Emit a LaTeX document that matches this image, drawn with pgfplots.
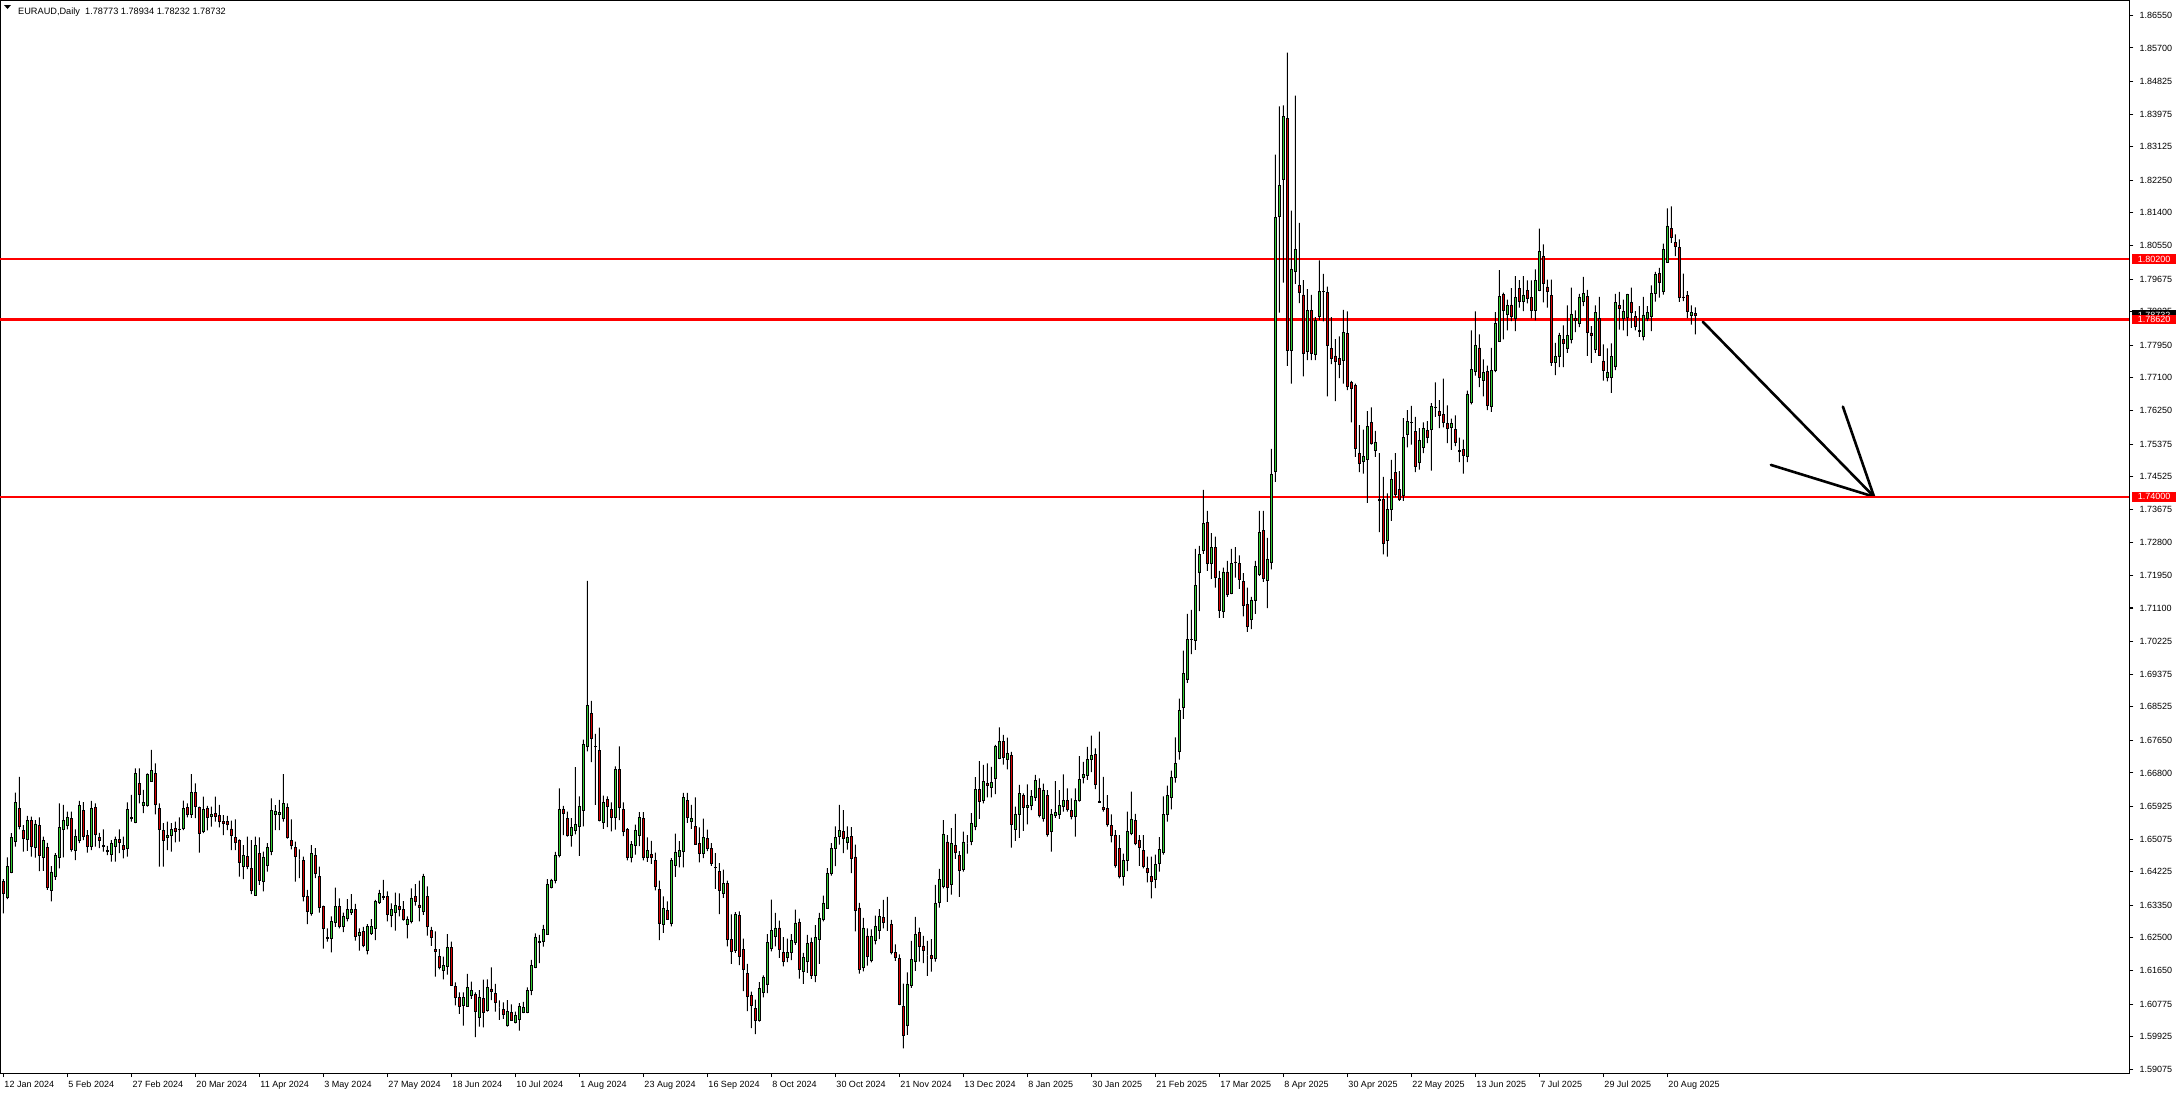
\documentclass[border=0pt]{standalone}
\usepackage{pgfplots}
\pgfplotsset{compat=1.18}
\usepackage{pgfplotstable}
\usepackage{fontspec}
\setmainfont{Liberation Sans}
\definecolor{cgreen}{RGB}{50,205,50}
\definecolor{cred}{RGB}{215,0,0}
\definecolor{lred}{RGB}{255,0,0}

\pgfplotstableread{
i o h l c
0 1.6397 1.6403 1.6314 1.6366
1 1.6356 1.6460 1.6351 1.6437
2 1.6421 1.6523 1.6419 1.6512
3 1.6501 1.6629 1.6488 1.6604
4 1.6588 1.6670 1.6533 1.6540
5 1.6529 1.6544 1.6475 1.6509
6 1.6507 1.6568 1.6477 1.6557
7 1.6555 1.6566 1.6462 1.6488
8 1.6486 1.6557 1.6459 1.6547
9 1.6542 1.6564 1.6424 1.6464
10 1.6460 1.6514 1.6425 1.6503
11 1.6486 1.6498 1.6375 1.6381
12 1.6373 1.6437 1.6345 1.6422
13 1.6410 1.6471 1.6401 1.6466
14 1.6460 1.6601 1.6431 1.6538
15 1.6533 1.6597 1.6460 1.6557
16 1.6544 1.6579 1.6533 1.6564
17 1.6562 1.6579 1.6475 1.6481
18 1.6477 1.6533 1.6453 1.6514
19 1.6505 1.6607 1.6497 1.6596
20 1.6583 1.6604 1.6505 1.6514
21 1.6517 1.6531 1.6472 1.6488
22 1.6488 1.6607 1.6479 1.6588
23 1.6590 1.6601 1.6488 1.6520
24 1.6512 1.6524 1.6484 1.6504
25 1.6492 1.6533 1.6475 1.6488
26 1.6477 1.6490 1.6466 1.6476
27 1.6467 1.6505 1.6449 1.6497
28 1.6488 1.6514 1.6449 1.6507
29 1.6507 1.6533 1.6471 1.6499
30 1.6491 1.6514 1.6457 1.6481
31 1.6483 1.6603 1.6462 1.6585
32 1.6561 1.6623 1.6553 1.6564
33 1.6551 1.6692 1.6549 1.6679
34 1.6653 1.6692 1.6601 1.6623
35 1.6596 1.6636 1.6575 1.6604
36 1.6596 1.6679 1.6592 1.6675
37 1.6658 1.6740 1.6657 1.6687
38 1.6679 1.6705 1.6572 1.6598
39 1.6588 1.6601 1.6436 1.6533
40 1.6531 1.6549 1.6436 1.6504
41 1.6512 1.6553 1.6479 1.6517
42 1.6517 1.6549 1.6475 1.6533
43 1.6536 1.6553 1.6499 1.6528
44 1.6533 1.6564 1.6501 1.6534
45 1.6535 1.6608 1.6531 1.6588
46 1.6590 1.6601 1.6564 1.6572
47 1.6572 1.6677 1.6563 1.6630
48 1.6630 1.6653 1.6562 1.6593
49 1.6590 1.6592 1.6472 1.6522
50 1.6528 1.6618 1.6523 1.6585
51 1.6588 1.6594 1.6530 1.6564
52 1.6566 1.6592 1.6540 1.6572
53 1.6575 1.6618 1.6553 1.6566
54 1.6570 1.6597 1.6538 1.6554
55 1.6553 1.6570 1.6518 1.6549
56 1.6553 1.6568 1.6531 1.6546
57 1.6534 1.6556 1.6479 1.6517
58 1.6512 1.6559 1.6479 1.6499
59 1.6505 1.6507 1.6410 1.6446
60 1.6437 1.6492 1.6403 1.6466
61 1.6463 1.6514 1.6429 1.6436
62 1.6431 1.6505 1.6364 1.6373
63 1.6361 1.6514 1.6361 1.6490
64 1.6471 1.6512 1.6388 1.6399
65 1.6397 1.6475 1.6371 1.6461
66 1.6439 1.6497 1.6423 1.6486
67 1.6475 1.6614 1.6466 1.6583
68 1.6571 1.6596 1.6531 1.6581
69 1.6571 1.6610 1.6531 1.6577
70 1.6562 1.6677 1.6553 1.6601
71 1.6591 1.6601 1.6509 1.6513
72 1.6505 1.6559 1.6481 1.6491
73 1.6486 1.6501 1.6397 1.6462
74 1.6455 1.6481 1.6406 1.6455
75 1.6451 1.6462 1.6345 1.6358
76 1.6357 1.6375 1.6286 1.6319
77 1.6314 1.6492 1.6308 1.6471
78 1.6464 1.6484 1.6406 1.6419
79 1.6411 1.6436 1.6316 1.6330
80 1.6331 1.6334 1.6222 1.6275
81 1.6249 1.6275 1.6240 1.6250
82 1.6249 1.6306 1.6212 1.6293
83 1.6290 1.6381 1.6279 1.6331
84 1.6331 1.6353 1.6275 1.6279
85 1.6279 1.6316 1.6265 1.6305
86 1.6300 1.6351 1.6293 1.6323
87 1.6316 1.6364 1.6310 1.6323
88 1.6325 1.6339 1.6243 1.6254
89 1.6256 1.6275 1.6217 1.6265
90 1.6267 1.6279 1.6226 1.6230
91 1.6217 1.6286 1.6207 1.6279
92 1.6262 1.6299 1.6258 1.6279
93 1.6275 1.6349 1.6244 1.6346
94 1.6342 1.6375 1.6339 1.6366
95 1.6359 1.6401 1.6349 1.6355
96 1.6359 1.6371 1.6293 1.6311
97 1.6309 1.6340 1.6278 1.6323
98 1.6316 1.6368 1.6269 1.6334
99 1.6331 1.6366 1.6306 1.6324
100 1.6323 1.6346 1.6295 1.6299
101 1.6286 1.6306 1.6249 1.6297
102 1.6293 1.6379 1.6288 1.6354
103 1.6359 1.6390 1.6334 1.6346
104 1.6336 1.6399 1.6293 1.6329
105 1.6319 1.6417 1.6310 1.6410
106 1.6359 1.6384 1.6256 1.6279
107 1.6270 1.6279 1.6229 1.6252
108 1.6221 1.6267 1.6149 1.6215
109 1.6202 1.6221 1.6168 1.6173
110 1.6166 1.6201 1.6142 1.6177
111 1.6175 1.6260 1.6154 1.6226
112 1.6224 1.6240 1.6125 1.6127
113 1.6123 1.6134 1.6074 1.6095
114 1.6095 1.6108 1.6052 1.6072
115 1.6074 1.6108 1.6021 1.6094
116 1.6072 1.6156 1.6071 1.6121
117 1.6101 1.6136 1.6091 1.6112
118 1.6103 1.6108 1.5991 1.6058
119 1.6043 1.6114 1.6019 1.6096
120 1.6093 1.6141 1.6017 1.6057
121 1.6061 1.6142 1.6058 1.6121
122 1.6117 1.6173 1.6088 1.6111
123 1.6106 1.6130 1.6058 1.6082
124 1.6069 1.6087 1.6036 1.6069
125 1.6064 1.6082 1.6039 1.6051
126 1.6021 1.6088 1.6019 1.6059
127 1.6056 1.6077 1.6034 1.6036
128 1.6030 1.6058 1.6027 1.6047
129 1.6038 1.6080 1.6008 1.6072
130 1.6057 1.6083 1.6054 1.6069
131 1.6056 1.6121 1.6054 1.6112
132 1.6112 1.6193 1.6101 1.6179
133 1.6174 1.6262 1.6171 1.6252
134 1.6239 1.6258 1.6184 1.6242
135 1.6242 1.6284 1.6227 1.6273
136 1.6259 1.6403 1.6258 1.6390
137 1.6382 1.6404 1.6379 1.6401
138 1.6399 1.6474 1.6392 1.6465
139 1.6466 1.6640 1.6460 1.6584
140 1.6584 1.6594 1.6518 1.6574
141 1.6562 1.6579 1.6514 1.6517
142 1.6518 1.6562 1.6488 1.6538
143 1.6531 1.6695 1.6520 1.6545
144 1.6541 1.6619 1.6464 1.6594
145 1.6583 1.6767 1.6541 1.6754
146 1.6749 1.7181 1.6736 1.6855
147 1.6836 1.6868 1.6708 1.6769
148 1.6749 1.6782 1.6597 1.6750
149 1.6738 1.6798 1.6554 1.6557
150 1.6552 1.6621 1.6534 1.6604
151 1.6610 1.6619 1.6539 1.6593
152 1.6586 1.6603 1.6528 1.6565
153 1.6565 1.6697 1.6532 1.6690
154 1.6689 1.6749 1.6557 1.6591
155 1.6586 1.6603 1.6515 1.6528
156 1.6532 1.6536 1.6452 1.6461
157 1.6461 1.6502 1.6447 1.6493
158 1.6491 1.6545 1.6467 1.6530
159 1.6517 1.6578 1.6489 1.6565
160 1.6561 1.6578 1.6452 1.6461
161 1.6461 1.6512 1.6448 1.6477
162 1.6467 1.6503 1.6443 1.6461
163 1.6451 1.6472 1.6374 1.6384
164 1.6377 1.6399 1.6244 1.6289
165 1.6284 1.6358 1.6263 1.6326
166 1.6321 1.6345 1.6298 1.6299
167 1.6289 1.6458 1.6280 1.6451
168 1.6439 1.6522 1.6409 1.6474
169 1.6463 1.6502 1.6434 1.6477
170 1.6476 1.6628 1.6434 1.6616
171 1.6608 1.6628 1.6550 1.6563
172 1.6554 1.6597 1.6534 1.6562
173 1.6541 1.6616 1.6493 1.6495
174 1.6497 1.6538 1.6447 1.6469
175 1.6470 1.6561 1.6458 1.6513
176 1.6510 1.6532 1.6476 1.6484
177 1.6483 1.6497 1.6438 1.6444
178 1.6434 1.6471 1.6378 1.6433
179 1.6423 1.6445 1.6312 1.6374
180 1.6367 1.6428 1.6354 1.6393
181 1.6393 1.6399 1.6228 1.6245
182 1.6245 1.6311 1.6182 1.6215
183 1.6218 1.6317 1.6211 1.6311
184 1.6308 1.6319 1.6179 1.6202
185 1.6219 1.6248 1.6111 1.6169
186 1.6157 1.6182 1.6059 1.6098
187 1.6099 1.6110 1.6015 1.6075
188 1.6067 1.6089 1.5999 1.6035
189 1.6035 1.6135 1.6032 1.6119
190 1.6108 1.6152 1.6095 1.6148
191 1.6130 1.6260 1.6106 1.6237
192 1.6223 1.6350 1.6215 1.6269
193 1.6254 1.6315 1.6228 1.6276
194 1.6276 1.6295 1.6198 1.6221
195 1.6212 1.6252 1.6176 1.6189
196 1.6200 1.6248 1.6187 1.6213
197 1.6212 1.6260 1.6192 1.6243
198 1.6238 1.6324 1.6232 1.6289
199 1.6291 1.6300 1.6144 1.6169
200 1.6163 1.6211 1.6130 1.6199
201 1.6189 1.6258 1.6159 1.6235
202 1.6239 1.6251 1.6143 1.6152
203 1.6152 1.6283 1.6135 1.6250
204 1.6247 1.6315 1.6182 1.6302
205 1.6298 1.6360 1.6293 1.6341
206 1.6328 1.6432 1.6326 1.6419
207 1.6419 1.6497 1.6412 1.6484
208 1.6484 1.6541 1.6437 1.6513
209 1.6515 1.6597 1.6493 1.6531
210 1.6528 1.6583 1.6471 1.6510
211 1.6500 1.6541 1.6480 1.6513
212 1.6515 1.6539 1.6419 1.6456
213 1.6461 1.6493 1.6267 1.6321
214 1.6328 1.6341 1.6157 1.6167
215 1.6174 1.6302 1.6163 1.6276
216 1.6255 1.6275 1.6178 1.6201
217 1.6192 1.6272 1.6186 1.6255
218 1.6243 1.6308 1.6233 1.6281
219 1.6269 1.6325 1.6247 1.6307
220 1.6304 1.6349 1.6275 1.6290
221 1.6279 1.6357 1.6268 1.6279
222 1.6284 1.6297 1.6207 1.6211
223 1.6212 1.6233 1.6190 1.6198
224 1.6197 1.6207 1.6075 1.6077
225 1.6072 1.6131 1.5962 1.5995
226 1.6023 1.6160 1.5997 1.6130
227 1.6125 1.6242 1.6120 1.6194
228 1.6190 1.6305 1.6164 1.6260
229 1.6264 1.6277 1.6188 1.6227
230 1.6229 1.6255 1.6184 1.6217
231 1.6204 1.6242 1.6151 1.6204
232 1.6205 1.6247 1.6162 1.6196
233 1.6196 1.6388 1.6188 1.6340
234 1.6342 1.6430 1.6329 1.6403
235 1.6385 1.6557 1.6379 1.6521
236 1.6500 1.6518 1.6344 1.6382
237 1.6390 1.6536 1.6363 1.6497
238 1.6491 1.6573 1.6456 1.6473
239 1.6465 1.6476 1.6357 1.6425
240 1.6428 1.6527 1.6423 1.6500
241 1.6496 1.6518 1.6470 1.6496
242 1.6501 1.6575 1.6492 1.6549
243 1.6541 1.6669 1.6531 1.6637
244 1.6637 1.6711 1.6560 1.6605
245 1.6609 1.6701 1.6601 1.6658
246 1.6653 1.6705 1.6616 1.6647
247 1.6642 1.6696 1.6616 1.6656
248 1.6666 1.6753 1.6625 1.6748
249 1.6718 1.6799 1.6716 1.6763
250 1.6763 1.6779 1.6702 1.6720
251 1.6715 1.6772 1.6689 1.6731
252 1.6726 1.6735 1.6485 1.6546
253 1.6533 1.6592 1.6503 1.6572
254 1.6572 1.6649 1.6511 1.6627
255 1.6622 1.6627 1.6529 1.6589
256 1.6591 1.6650 1.6546 1.6596
257 1.6596 1.6635 1.6583 1.6620
258 1.6616 1.6675 1.6607 1.6661
259 1.6641 1.6666 1.6564 1.6570
260 1.6562 1.6652 1.6553 1.6635
261 1.6622 1.6635 1.6514 1.6520
262 1.6527 1.6586 1.6475 1.6573
263 1.6569 1.6659 1.6563 1.6577
264 1.6572 1.6635 1.6560 1.6595
265 1.6592 1.6676 1.6579 1.6609
266 1.6609 1.6640 1.6579 1.6585
267 1.6582 1.6614 1.6559 1.6566
268 1.6566 1.6640 1.6514 1.6609
269 1.6608 1.6724 1.6605 1.6664
270 1.6668 1.6709 1.6653 1.6675
271 1.6673 1.6748 1.6662 1.6716
272 1.6715 1.6777 1.6682 1.6727
273 1.6729 1.6744 1.6638 1.6650
274 1.6605 1.6788 1.6602 1.6604
275 1.6591 1.6670 1.6579 1.6585
276 1.6588 1.6622 1.6540 1.6546
277 1.6544 1.6572 1.6499 1.6516
278 1.6518 1.6531 1.6433 1.6440
279 1.6483 1.6518 1.6405 1.6410
280 1.6410 1.6470 1.6386 1.6452
281 1.6451 1.6579 1.6424 1.6528
282 1.6522 1.6631 1.6518 1.6560
283 1.6555 1.6573 1.6492 1.6496
284 1.6503 1.6518 1.6438 1.6485
285 1.6479 1.6518 1.6431 1.6436
286 1.6431 1.6462 1.6395 1.6420
287 1.6411 1.6462 1.6353 1.6397
288 1.6402 1.6467 1.6380 1.6442
289 1.6445 1.6513 1.6423 1.6481
290 1.6473 1.6619 1.6467 1.6571
291 1.6572 1.6647 1.6553 1.6621
292 1.6617 1.6686 1.6585 1.6669
293 1.6669 1.6773 1.6655 1.6704
294 1.6737 1.6874 1.6715 1.6842
295 1.6850 1.6999 1.6821 1.6939
296 1.6925 1.7095 1.6915 1.7027
297 1.7029 1.7105 1.6990 1.7028
298 1.7026 1.7264 1.7001 1.7168
299 1.7204 1.7272 1.7102 1.7250
300 1.7259 1.7418 1.7251 1.7331
301 1.7334 1.7363 1.7207 1.7225
302 1.7225 1.7305 1.7186 1.7269
303 1.7267 1.7296 1.7163 1.7189
304 1.7186 1.7207 1.7084 1.7105
305 1.7102 1.7215 1.7084 1.7204
306 1.7204 1.7233 1.7139 1.7146
307 1.7149 1.7264 1.7146 1.7225
308 1.7230 1.7269 1.7189 1.7229
309 1.7227 1.7247 1.7160 1.7185
310 1.7179 1.7201 1.7088 1.7117
311 1.7120 1.7163 1.7048 1.7062
312 1.7081 1.7139 1.7055 1.7131
313 1.7131 1.7233 1.7095 1.7218
314 1.7197 1.7363 1.7194 1.7308
315 1.7312 1.7363 1.7178 1.7186
316 1.7182 1.7293 1.7110 1.7238
317 1.7230 1.7525 1.7211 1.7457
318 1.7467 1.8292 1.7439 1.8129
319 1.8131 1.8418 1.7880 1.8211
320 1.8227 1.8420 1.7958 1.8392
321 1.8386 1.8558 1.7741 1.7782
322 1.7782 1.8146 1.7695 1.7994
323 1.7987 1.8446 1.7955 1.8045
324 1.7951 1.8114 1.7905 1.7934
325 1.7926 1.7965 1.7714 1.7775
326 1.7779 1.7941 1.7756 1.7886
327 1.7886 1.7926 1.7756 1.7775
328 1.7770 1.7868 1.7756 1.7861
329 1.7871 1.8016 1.7861 1.7935
330 1.7936 1.7981 1.7857 1.7935
331 1.7932 1.7948 1.7662 1.7795
332 1.7786 1.7868 1.7746 1.7760
333 1.7767 1.7811 1.7649 1.7753
334 1.7760 1.7818 1.7709 1.7746
335 1.7756 1.7887 1.7695 1.7828
336 1.7825 1.7883 1.7678 1.7688
337 1.7698 1.7702 1.7594 1.7683
338 1.7691 1.7695 1.7504 1.7527
339 1.7513 1.7587 1.7464 1.7488
340 1.7491 1.7575 1.7460 1.7504
341 1.7497 1.7623 1.7384 1.7584
342 1.7594 1.7633 1.7536 1.7539
343 1.7520 1.7572 1.7504 1.7543
344 1.7392 1.7514 1.7308 1.7391
345 1.7394 1.7452 1.7250 1.7279
346 1.7286 1.7409 1.7244 1.7366
347 1.7368 1.7496 1.7337 1.7446
348 1.7464 1.7514 1.7399 1.7406
349 1.7420 1.7467 1.7389 1.7394
350 1.7403 1.7605 1.7389 1.7555
351 1.7562 1.7626 1.7529 1.7597
352 1.7594 1.7637 1.7536 1.7593
353 1.7571 1.7608 1.7464 1.7478
354 1.7490 1.7579 1.7471 1.7546
355 1.7529 1.7594 1.7514 1.7577
356 1.7572 1.7597 1.7540 1.7556
357 1.7575 1.7644 1.7468 1.7636
358 1.7633 1.7698 1.7608 1.7634
359 1.7623 1.7652 1.7579 1.7611
360 1.7615 1.7708 1.7581 1.7593
361 1.7590 1.7638 1.7540 1.7577
362 1.7580 1.7604 1.7522 1.7590
363 1.7575 1.7612 1.7532 1.7541
364 1.7519 1.7554 1.7490 1.7520
365 1.7523 1.7549 1.7460 1.7508
366 1.7504 1.7677 1.7490 1.7667
367 1.7645 1.7834 1.7641 1.7731
368 1.7726 1.7883 1.7716 1.7794
369 1.7788 1.7823 1.7686 1.7710
370 1.7704 1.7758 1.7662 1.7723
371 1.7726 1.7742 1.7626 1.7639
372 1.7636 1.7788 1.7621 1.7729
373 1.7730 1.7881 1.7725 1.7851
374 1.7806 1.7991 1.7806 1.7922
375 1.7927 1.7932 1.7810 1.7886
376 1.7875 1.7914 1.7834 1.7899
377 1.7900 1.7944 1.7858 1.7871
378 1.7866 1.7975 1.7832 1.7919
379 1.7942 1.7965 1.7893 1.7910
380 1.7910 1.7975 1.7884 1.7926
381 1.7938 1.7964 1.7904 1.7918
382 1.7919 1.7964 1.7865 1.7886
383 1.7886 1.7993 1.7860 1.7964
384 1.7938 1.8099 1.7936 1.8039
385 1.8026 1.8058 1.7907 1.7955
386 1.7947 1.7966 1.7893 1.7936
387 1.7924 1.7966 1.7741 1.7751
388 1.7749 1.7801 1.7717 1.7765
389 1.7767 1.7827 1.7738 1.7820
390 1.7810 1.7847 1.7738 1.7799
391 1.7788 1.7899 1.7775 1.7820
392 1.7809 1.7945 1.7800 1.7875
393 1.7864 1.7886 1.7829 1.7860
394 1.7851 1.7929 1.7842 1.7921
395 1.7910 1.7973 1.7897 1.7929
396 1.7922 1.7939 1.7767 1.7829
397 1.7827 1.7845 1.7749 1.7821
398 1.7783 1.7899 1.7775 1.7880
399 1.7865 1.7921 1.7767 1.7768
400 1.7754 1.7797 1.7703 1.7730
401 1.7712 1.7787 1.7701 1.7724
402 1.7710 1.7800 1.7671 1.7765
403 1.7741 1.7929 1.7730 1.7906
404 1.7899 1.7934 1.7836 1.7892
405 1.7865 1.7914 1.7834 1.7882
406 1.7867 1.7929 1.7819 1.7927
407 1.7906 1.7945 1.7840 1.7880
408 1.7869 1.7884 1.7834 1.7845
409 1.7833 1.7897 1.7817 1.7832
410 1.7819 1.7921 1.7808 1.7874
411 1.7864 1.7897 1.7858 1.7880
412 1.7871 1.7951 1.7832 1.7929
413 1.7929 1.7986 1.7909 1.7979
414 1.7982 1.7997 1.7919 1.7960
415 1.7936 1.8060 1.7927 1.8045
416 1.8010 1.8152 1.8010 1.8106
417 1.8099 1.8157 1.8062 1.8075
418 1.8062 1.8084 1.8027 1.8052
419 1.8049 1.8071 1.7908 1.7919
420 1.7921 1.7982 1.7910 1.7920
421 1.7924 1.7936 1.7866 1.7884
422 1.7873 1.7899 1.7849 1.7880
423 1.78773 1.78934 1.78232 1.78732
}\candles

\begin{document}
\begin{tikzpicture}[x=1pt,y=1pt]
\path[use as bounding box] (0,0) rectangle (2176,-1095);
\begin{axis}[
  at={(0pt,0pt)}, anchor=north west,
  scale only axis, width=2129.5pt, height=1073pt,
  xmin=-0.825, xmax=531.55, ymin=1.58977, ymax=1.86950,
  ybar stacked, bar width=0.62,
  axis line style={black, line width=1pt},
  xtick pos=left, ytick pos=right,
  xticklabel pos=left, yticklabel pos=right,
  tick align=outside, major tick length=4pt,
  tick style={black, line width=1pt},
  xtick={0,16,...,416},
  xticklabels={12 Jan 2024, 5 Feb 2024, 27 Feb 2024, 20 Mar 2024, 11 Apr 2024, 3 May 2024, 27 May 2024, 18 Jun 2024, 10 Jul 2024, 1 Aug 2024, 23 Aug 2024, 16 Sep 2024, 8 Oct 2024, 30 Oct 2024, 21 Nov 2024, 13 Dec 2024, 8 Jan 2025, 30 Jan 2025, 21 Feb 2025, 17 Mar 2025, 8 Apr 2025, 30 Apr 2025, 22 May 2025, 13 Jun 2025, 7 Jul 2025, 29 Jul 2025, 20 Aug 2025},
  ytick={1.86550,1.85700,1.84825,1.83975,1.83125,1.82250,1.81400,1.80550,1.79675,1.78825,1.77950,1.77100,1.76250,1.75375,1.74525,1.73675,1.72800,1.71950,1.71100,1.70225,1.69375,1.68525,1.67650,1.66800,1.65925,1.65075,1.64225,1.63350,1.62500,1.61650,1.60775,1.59925,1.59075},
  yticklabels={1.86550,1.85700,1.84825,1.83975,1.83125,1.82250,1.81400,1.80550,1.79675,1.78825,1.77950,1.77100,1.76250,1.75375,1.74525,1.73675,1.72800,1.71950,1.71100,1.70225,1.69375,1.68525,1.67650,1.66800,1.65925,1.65075,1.64225,1.63350,1.62500,1.61650,1.60775,1.59925,1.59075},
  xticklabel style={anchor=north west, inner sep=0pt, xshift=1pt, yshift=-3.5pt, font=\fontsize{9}{10}\selectfont},
  yticklabel style={anchor=west, inner sep=0pt, xshift=6pt, font=\fontsize{9}{10}\selectfont},
  clip mode=individual,
]
% invisible base up to the low
\addplot[draw=none, fill=none] table[x=i, y=l] {\candles};
% lower wick: low to body bottom
\addplot[draw=none, fill=black, bar width=0.25] table[x=i, y expr={max(min(\thisrow{o},\thisrow{c})-\thisrow{l},0)}] {\candles};
% bullish bodies
\addplot[draw=black, line width=0.8pt, fill=cgreen] table[x=i, y expr={\thisrow{c}<\thisrow{o} ? 0 : \thisrow{c}-\thisrow{o}}] {\candles};
% bearish bodies
\addplot[draw=black, line width=0.8pt, fill=cred] table[x=i, y expr={\thisrow{c}<\thisrow{o} ? \thisrow{o}-\thisrow{c} : 0}] {\candles};
% upper wick: body top to high
\addplot[draw=none, fill=black, bar width=0.25] table[x=i, y expr={max(\thisrow{h}-max(\thisrow{o},\thisrow{c}),0)}] {\candles};
% horizontal levels
\draw[lred, line width=2.2pt] (axis cs:-0.825,1.80200) -- (axis cs:531.55,1.80200);
\draw[lred, line width=2.2pt] (axis cs:-0.825,1.78620) -- (axis cs:531.55,1.78620);
\draw[lred, line width=2.2pt] (axis cs:-0.825,1.74000) -- (axis cs:531.55,1.74000);
% arrow
\draw[black, line width=2.6pt, line cap=round] (axis cs:424.9,1.7856) -- (axis cs:467.7,1.7400);
\draw[black, line width=2.6pt, line cap=round, line join=round] (axis cs:441.9,1.7483) -- (axis cs:467.7,1.7400) -- (axis cs:459.9,1.7635);
\coordinate (pc) at (axis cs:531.55,1.78732);
\coordinate (r1) at (axis cs:531.55,1.80200);
\coordinate (r2) at (axis cs:531.55,1.78620);
\coordinate (r3) at (axis cs:531.55,1.74000);
\end{axis}
% price labels on the scale
\tikzset{plab/.style={text=white, anchor=west, inner sep=0pt, minimum width=44pt, minimum height=9.5pt, xshift=2.5pt, font=\fontsize{9}{10}\selectfont}}
\node[plab, fill=black] at (pc) {1.78732};
\node[plab, fill=lred] at (r1) {1.80200};
\node[plab, fill=lred] at (r2) {1.78620};
\node[plab, fill=lred] at (r3) {1.74000};
\fill[black] (4,-5) -- (11,-5) -- (7.5,-9) -- cycle;
\node[anchor=base west, inner sep=0pt, font=\fontsize{9.2}{10}\selectfont] at (18,-14) {EURAUD,Daily\ \ 1.78773 1.78934 1.78232 1.78732};
\end{tikzpicture}
\end{document}
